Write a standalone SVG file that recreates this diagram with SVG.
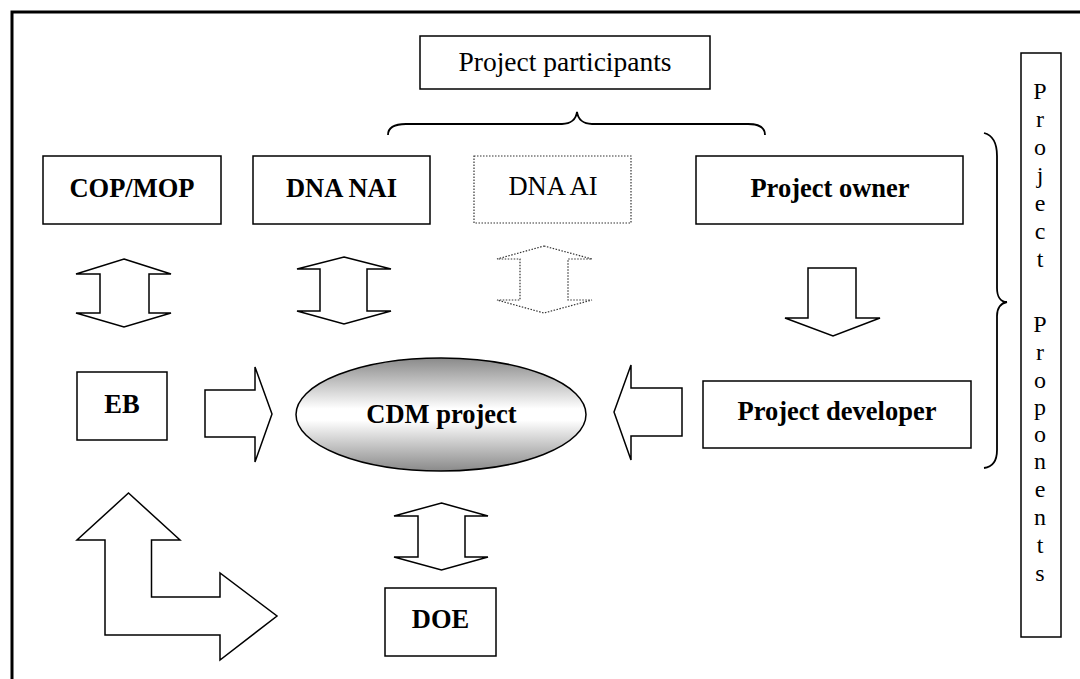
<svg xmlns="http://www.w3.org/2000/svg" width="1080" height="679" viewBox="0 0 1080 679">
<defs>
<linearGradient id="cdmGrad" x1="0" y1="0" x2="0" y2="1">
<stop offset="0" stop-color="#8a8a8a"/>
<stop offset="0.45" stop-color="#ffffff"/>
<stop offset="0.55" stop-color="#ffffff"/>
<stop offset="1" stop-color="#8a8a8a"/>
</linearGradient>
</defs>
<style>
.box{fill:#fff;stroke:#000;stroke-width:1.5}
.dot{fill:#fff;stroke:#333;stroke-width:1.2;stroke-dasharray:1.5 1.5}
.arr{fill:#fff;stroke:#000;stroke-width:1.5;stroke-linejoin:miter}
.brace{fill:none;stroke:#000;stroke-width:1.8}
text{font-family:'Liberation Serif','Times New Roman',Times,serif;fill:#000;text-anchor:middle}
.b{font-weight:bold;font-size:26.5px}
.r{font-size:26.5px}
.v{font-size:24px}
</style>
<rect x="0" y="0" width="1080" height="679" fill="#fff"/>
<rect x="12" y="12" width="1100" height="720" fill="none" stroke="#000" stroke-width="3"/>

<g id="project-participants">
<rect class="box" x="420" y="36" width="290" height="53"/>
<text class="r" x="565" y="71" font-family="Liberation Serif, serif" style="font-size:27.5px">Project participants</text>
</g>
<g id="cop-mop">
<rect class="box" x="43" y="156" width="178" height="68"/>
<text class="b" x="132" y="197" font-family="Liberation Serif, serif">COP/MOP</text>
</g>
<g id="dna-nai">
<rect class="box" x="253" y="156" width="177" height="68"/>
<text class="b" x="341.5" y="197" font-family="Liberation Serif, serif">DNA NAI</text>
</g>
<g id="dna-ai">
<rect class="dot" x="474" y="156" width="157" height="67"/>
<text class="r" x="553" y="195" font-family="Liberation Serif, serif">DNA AI</text>
</g>
<g id="project-owner">
<rect class="box" x="696" y="156" width="267" height="68"/>
<text class="b" x="830" y="197" font-family="Liberation Serif, serif">Project owner</text>
</g>
<g id="eb">
<rect class="box" x="77" y="372" width="90" height="68"/>
<text class="b" x="122" y="413" font-family="Liberation Serif, serif">EB</text>
</g>
<g id="cdm-project">
<ellipse cx="441" cy="414.5" rx="145" ry="56.5" fill="url(#cdmGrad)" stroke="#000" stroke-width="1.5"/>
<text class="b" x="441.5" y="423" font-family="Liberation Serif, serif">CDM project</text>
</g>
<g id="project-developer">
<rect class="box" x="703" y="381" width="268" height="67"/>
<text class="b" x="837" y="420" font-family="Liberation Serif, serif">Project developer</text>
</g>
<g id="doe">
<rect class="box" x="385" y="588" width="111" height="68"/>
<text class="b" x="440.5" y="628" font-family="Liberation Serif, serif">DOE</text>
</g>
<g id="project-proponents" font-family="Liberation Serif, serif">
<rect class="box" x="1021" y="53" width="40" height="584"/>
<text class="v" x="1040" y="99">P</text>
<text class="v" x="1040" y="127">r</text>
<text class="v" x="1040" y="155">o</text>
<text class="v" x="1040" y="183">j</text>
<text class="v" x="1040" y="211">e</text>
<text class="v" x="1040" y="239">c</text>
<text class="v" x="1040" y="267">t</text>
<text class="v" x="1040" y="332">P</text>
<text class="v" x="1040" y="360">r</text>
<text class="v" x="1040" y="388">o</text>
<text class="v" x="1040" y="415">p</text>
<text class="v" x="1040" y="442">o</text>
<text class="v" x="1040" y="469">n</text>
<text class="v" x="1040" y="497">e</text>
<text class="v" x="1040" y="525">n</text>
<text class="v" x="1040" y="553">t</text>
<text class="v" x="1040" y="581">s</text>
</g>

<g id="connectors">
<path class="brace" d="M388,135 C388,127 394,124 406,124 L562,124 C571,124 576,119 577,112 C578,119 583,124 592,124 L748,124 C759,124 765,127 765,135"/>
<path class="brace" d="M984,133 C992,135 997,142 997,156 L997,288 C997,297 1001,302 1007,302 C1001,303 997,308 997,316 L997,450 C997,461 992,467 984,468"/>
<polygon class="arr" points="124,259 171,274 149,274 149,313 171,313 124,327 76,313 100,313 100,274 76,274"/>
<polygon class="arr" points="344,257 391,269 367,269 367,311 391,311 344,324 297,311 320,311 320,269 297,269"/>
<polygon class="dot" points="544,246 592,259 568,259 568,300 592,300 544,313 497,300 520,300 520,259 497,259"/>
<polygon class="arr" points="808,268 856,268 856,318 880,318 833,336 785,318 808,318"/>
<polygon class="arr" points="205,390 255,390 255,367 272,414 255,462 255,437 205,437"/>
<polygon class="arr" points="682,388 682,436 631,436 631,460 614,412 631,365 631,388"/>
<polygon class="arr" points="441.5,503 488,516 465,516 465,557 488,557 441.5,570 394,557 418,557 418,516 394,516"/>
<polygon class="arr" points="128.5,493 180,540 151.5,540 151.5,597 220,597 220,573 277,616 220,660 220,635 105,635 105,540 77,540"/>
</g>
</svg>
